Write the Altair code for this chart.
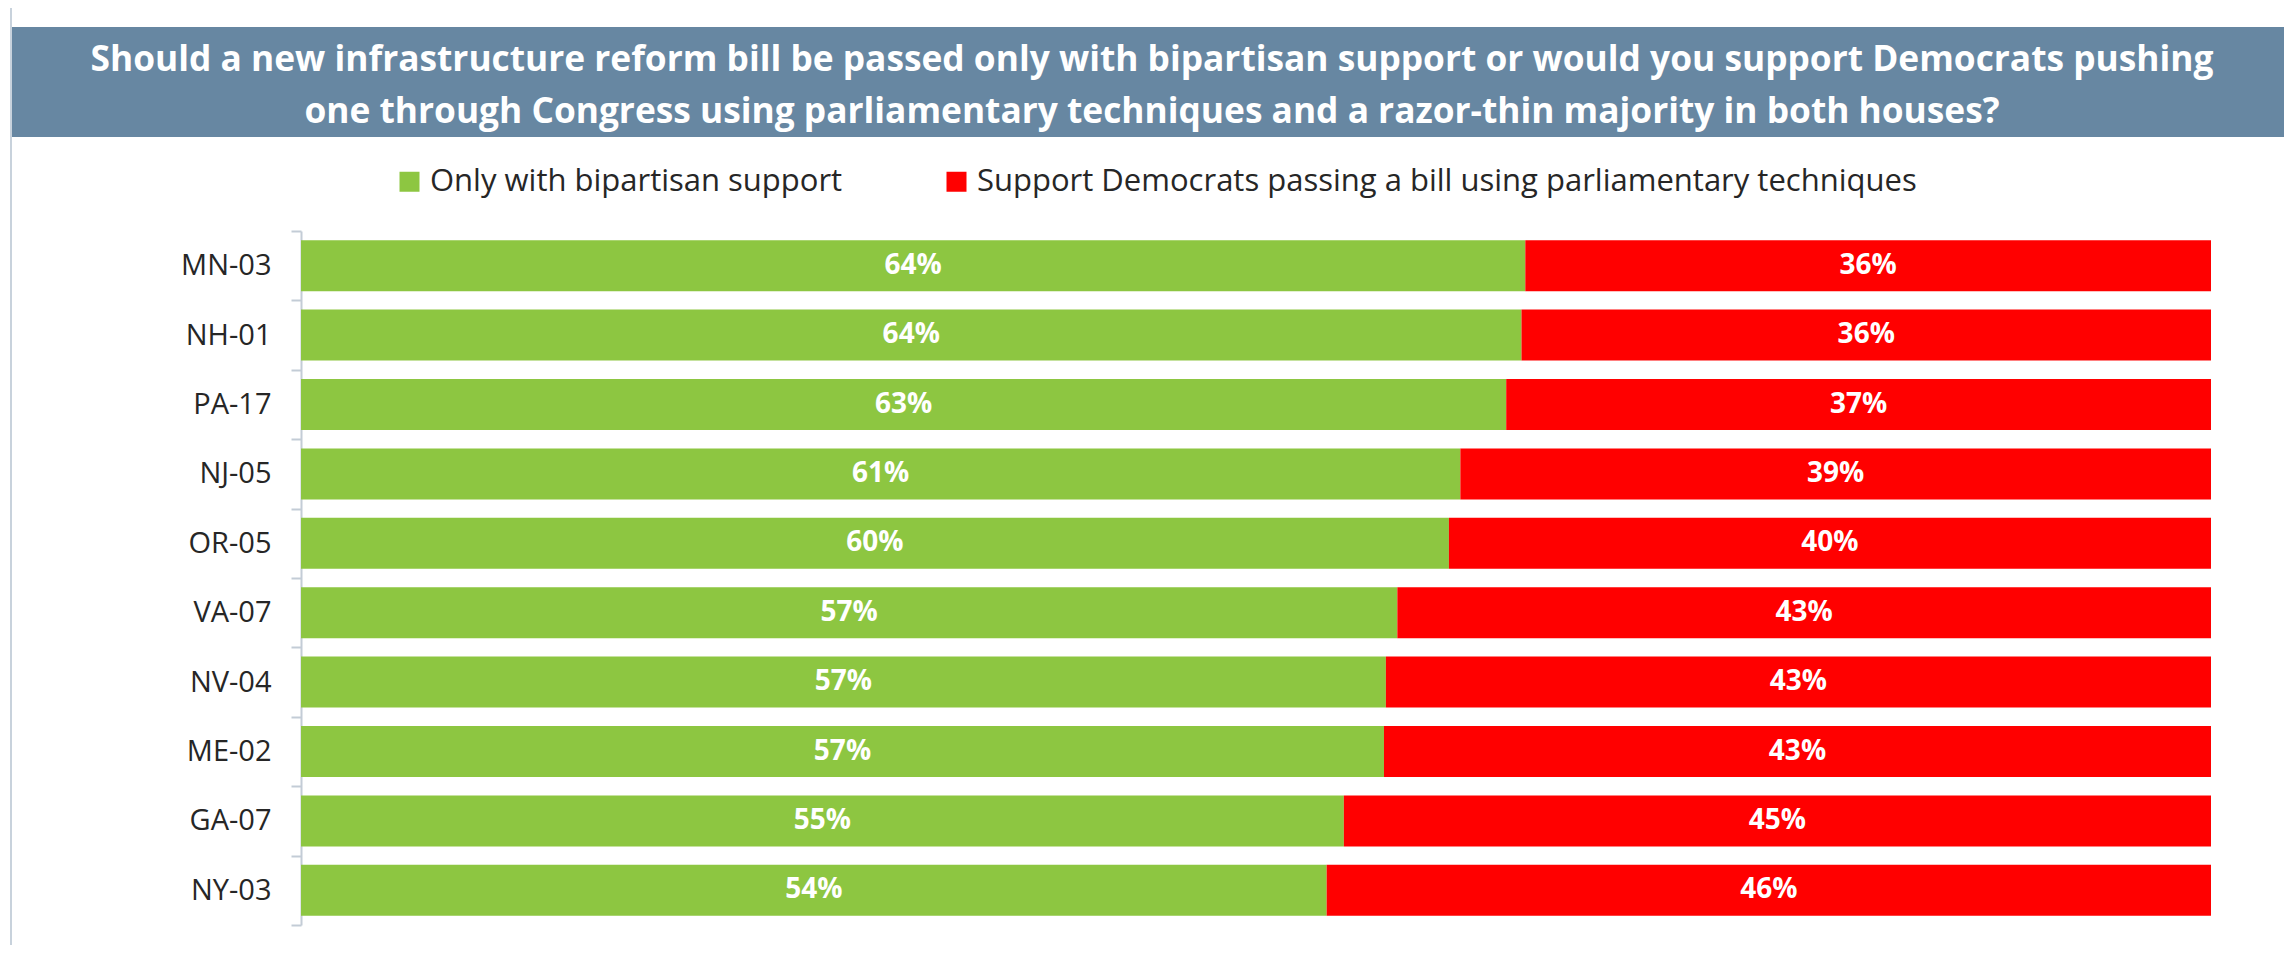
import altair as alt
import pandas as pd

districts = ["MN-03", "NH-01", "PA-17", "NJ-05", "OR-05", "VA-07", "NV-04", "ME-02", "GA-07", "NY-03"]
bipartisan = [64.1, 63.9, 63.1, 60.7, 60.1, 57.4, 56.8, 56.7, 54.6, 53.7]
democrats = [35.9, 36.1, 36.9, 39.3, 39.9, 42.6, 43.2, 43.3, 45.4, 46.3]
series_names = ["Only with bipartisan support",
                "Support Democrats passing a bill using parliamentary techniques"]
series_colors = ["#8DC641", "#FF0000"]
title_lines = [
    "Should a new infrastructure reform bill be passed only with bipartisan support or would you support Democrats pushing",
    "one through Congress using parliamentary techniques and a razor-thin majority in both houses?",
]

rows = []
for i, d in enumerate(districts):
    rows.append({"district": d, "series": series_names[0], "order": 0, "value": bipartisan[i]})
    rows.append({"district": d, "series": series_names[1], "order": 1, "value": democrats[i]})
df = pd.DataFrame(rows)

W, H = 1910, 694
OX, OY = 301, 231   # plot origin on the page
RIGHT = 2284        # right edge of the drawing on the page

base = alt.Chart(df).transform_stack(
    stack="value", groupby=["district"], as_=["v0", "v1"],
    sort=[alt.SortField("order", order="ascending")]
).transform_calculate(
    mid="(datum.v0 + datum.v1) / 2", frac="datum.value / 100"
)

yenc = alt.Y(
    "district:N", sort=districts,
    scale=alt.Scale(paddingInner=0, paddingOuter=0),
    axis=alt.Axis(title=None, tickBand="extent", tickSize=10, tickWidth=2,
                  tickColor="#C3CCD6", domainColor="#C3CCD6", domainWidth=2,
                  labelFont="Open Sans", labelFontSize=29, labelColor="#262626",
                  labelPadding=20, grid=False),
)

bars = base.mark_bar(height=alt.RelativeBandSize(0.735)).encode(
    x=alt.X("v0:Q", scale=alt.Scale(domain=[0, 100], nice=False), axis=None),
    x2="v1:Q",
    y=yenc,
    color=alt.Color(
        "series:N",
        scale=alt.Scale(domain=series_names, range=series_colors),
        legend=alt.Legend(orient="none", legendX=93, legendY=-65, direction="horizontal",
                          title=None, symbolType="square", symbolSize=400,
                          symbolStrokeWidth=0, labelFont="Open Sans", labelFontSize=31,
                          labelColor="#262626", labelLimit=2000, columnPadding=98,
                          labelOffset=5, padding=0),
    ),
)

labels = base.mark_text(font="Open Sans", fontSize=28, fontWeight="bold", color="white",
                        baseline="middle", align="center").encode(
    x=alt.X("mid:Q"),
    y=alt.Y("district:N", sort=districts),
    text=alt.Text("frac:Q", format=".0%"),
)

one = pd.DataFrame({"k": [0]})
banner = alt.Chart(one).mark_rect(color="#6787A2").encode(
    x=alt.value(12 - OX), x2=alt.value(RIGHT - OX),
    y=alt.value(27 - OY), y2=alt.value(137 - OY),
)
frame = alt.Chart(one).mark_rule(color="#C8D2DC", strokeWidth=2).encode(
    x=alt.value(11 - OX), y=alt.value(8 - OY), y2=alt.value(945 - OY),
)
t1 = alt.Chart(one).mark_text(font="Open Sans", fontSize=35.3, fontWeight="bold", color="white",
                              align="center", baseline="alphabetic").encode(
    x=alt.value(1152 - OX), y=alt.value(71 - OY), text=alt.value(title_lines[0]))
t2 = alt.Chart(one).mark_text(font="Open Sans", fontSize=35.3, fontWeight="bold", color="white",
                              align="center", baseline="alphabetic").encode(
    x=alt.value(1152 - OX), y=alt.value(123 - OY), text=alt.value(title_lines[1]))

chart = alt.layer(frame, banner, t1, t2, bars, labels).properties(
    width=W, height=H,
    autosize=alt.AutoSizeParams(type="none"),
    padding={"left": OX - 8, "top": OY - 8, "right": RIGHT - OX - W, "bottom": 945 - (OY + H)},
    background="white",
).configure_view(stroke=None)

chart.save("out.html", embed_options={"renderer": "svg", "actions": False})
